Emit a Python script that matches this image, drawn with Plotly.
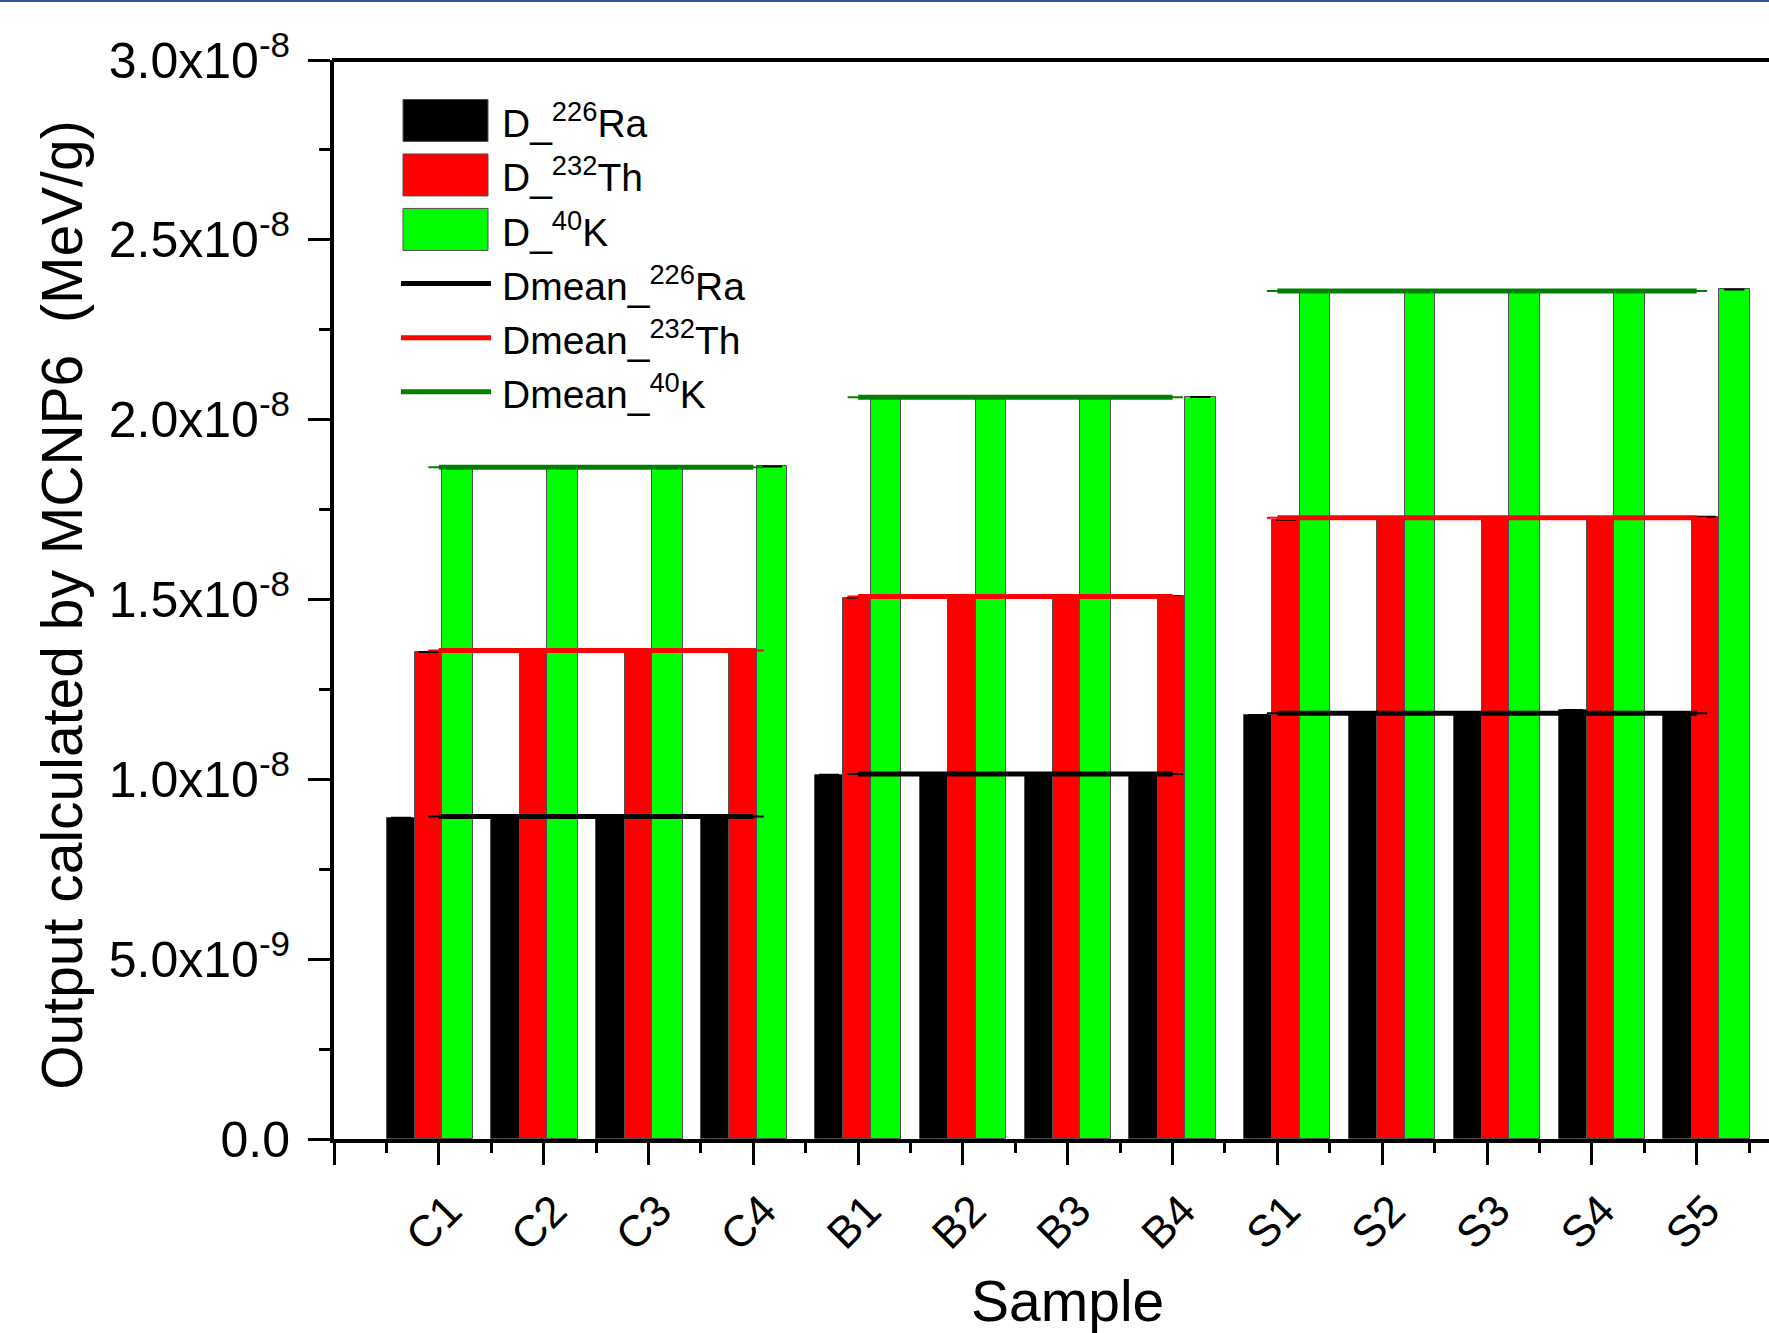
import plotly.graph_objects as go

# ---------------- data ----------------
samples = ["C1", "C2", "C3", "C4", "B1", "B2", "B3", "B4", "S1", "S2", "S3", "S4", "S5"]
sample_group = ["C", "C", "C", "C", "B", "B", "B", "B", "S", "S", "S", "S", "S"]

d_ra226 = [0.893e-8, 0.898e-8, 0.897e-8, 0.899e-8, 1.013e-8, 1.016e-8, 1.015e-8, 1.017e-8,
           1.179e-8, 1.183e-8, 1.184e-8, 1.193e-8, 1.185e-8]
d_th232 = [1.354e-8, 1.360e-8, 1.358e-8, 1.361e-8, 1.505e-8, 1.509e-8, 1.508e-8, 1.510e-8,
           1.721e-8, 1.728e-8, 1.729e-8, 1.727e-8, 1.730e-8]
d_k40 = [1.865e-8, 1.869e-8, 1.868e-8, 1.870e-8, 2.060e-8, 2.063e-8, 2.062e-8, 2.063e-8,
         2.355e-8, 2.358e-8, 2.359e-8, 2.358e-8, 2.362e-8]

groups = ["C", "B", "S"]
dmean_ra226 = [0.897e-8, 1.015e-8, 1.184e-8]
dmean_th232 = [1.358e-8, 1.508e-8, 1.727e-8]
dmean_k40 = [1.868e-8, 2.062e-8, 2.358e-8]

y_tickvals = [0, 0.5e-8, 1.0e-8, 1.5e-8, 2.0e-8, 2.5e-8, 3.0e-8]
y_ticktext = ["0.0", "5.0x10<sup>-9</sup>", "1.0x10<sup>-8</sup>", "1.5x10<sup>-8</sup>",
              "2.0x10<sup>-8</sup>", "2.5x10<sup>-8</sup>", "3.0x10<sup>-8</sup>"]

bar_names = ["D_<sup>226</sup>Ra", "D_<sup>232</sup>Th", "D_<sup>40</sup>K"]
line_names = ["Dmean_<sup>226</sup>Ra", "Dmean_<sup>232</sup>Th", "Dmean_<sup>40</sup>K"]

# ---------------- style ----------------
FONT = "Liberation Sans, Arial, sans-serif"
W, H = 1769, 1333
ML, MT, MR = 334, 60, 0
Y0PX = 1139.5
MB = H - Y0PX
PLOT_W = W - ML - MR
PLOT_H = Y0PX - MT
X_UNIT = 104.82
XMAX = PLOT_W / X_UNIT

bar_colors = ["#000000", "#FF0000", "#00FF00"]
line_colors = ["#000000", "#FF0000", "#008000"]
group_shift = {"C": -0.498, "B": -0.412, "S": -0.318}
bar_widths = [0.270, 0.262, 0.291]
bar_starts = [0.0, 0.270, 0.532]


def px_x(p):
    return (p - ML) / PLOT_W


def px_y(p):
    return (Y0PX - p) / PLOT_H


fig = go.Figure()

series = [d_ra226, d_th232, d_k40]
for s, vals in enumerate(series):
    xs = [i + 1 + group_shift[g] + bar_starts[s] + bar_widths[s] / 2
          for i, g in enumerate(sample_group)]
    fig.add_trace(go.Bar(
        x=xs, y=vals, width=bar_widths[s], name=bar_names[s],
        marker=dict(color=bar_colors[s], line=dict(color="#505050", width=1)),
        error_y=dict(type="data", array=[0] * len(vals), color="black", thickness=2, width=10),
        showlegend=False,
    ))

means = [dmean_ra226, dmean_th232, dmean_k40]
EXT = 0.1
for s, mv in enumerate(means):
    for gi, g in enumerate(groups):
        idx = [i + 1 for i, gg in enumerate(sample_group) if gg == g]
        x0, x1 = min(idx), max(idx)
        fig.add_trace(go.Scatter(
            x=[x0 - EXT, x1 + EXT], y=[mv[gi], mv[gi]], mode="lines",
            line=dict(color=line_colors[s], width=2), showlegend=False, hoverinfo="skip"))
        fig.add_trace(go.Scatter(
            x=[x0, x1], y=[mv[gi], mv[gi]], mode="lines", name=line_names[s],
            line=dict(color=line_colors[s], width=5), showlegend=False))

shapes = []
annotations = []

# custom legend
row_y = [120.5, 175.0, 229.5, 283.5, 338.0, 392.0]
for s in range(3):
    yc = row_y[s]
    shapes.append(dict(type="rect", xref="paper", yref="paper",
                       x0=px_x(403), x1=px_x(488), y0=px_y(yc + 21), y1=px_y(yc - 21),
                       fillcolor=bar_colors[s], line=dict(color="#505050", width=1)))
    annotations.append(dict(text=bar_names[s], xref="paper", yref="paper",
                            x=px_x(500), y=px_y(yc), xanchor="left", yanchor="middle",
                            showarrow=False, font=dict(family=FONT, size=39, color="black")))
for s in range(3):
    yc = row_y[s + 3]
    shapes.append(dict(type="line", xref="paper", yref="paper",
                       x0=px_x(401), x1=px_x(491), y0=px_y(yc), y1=px_y(yc),
                       line=dict(color=line_colors[s], width=5)))
    annotations.append(dict(text=line_names[s], xref="paper", yref="paper",
                            x=px_x(500), y=px_y(yc), xanchor="left", yanchor="middle",
                            showarrow=False, font=dict(family=FONT, size=39, color="black")))

# top frame line
shapes.append(dict(type="line", xref="paper", yref="paper", x0=px_x(ML - 2), x1=1.0,
                   y0=1.0, y1=1.0, line=dict(color="black", width=4), layer="above"))
# blue border at top of the picture
shapes.append(dict(type="line", xref="paper", yref="paper", x0=px_x(0), x1=1.0,
                   y0=px_y(1), y1=px_y(1), line=dict(color="#2f5597", width=2)))

# axis titles
annotations.append(dict(text="Output calculated by MCNP6  (MeV/g)", xref="paper", yref="paper",
                        x=px_x(62), y=px_y(606), xanchor="center", yanchor="middle",
                        textangle=-90, showarrow=False,
                        font=dict(family=FONT, size=57, color="black")))
annotations.append(dict(text="Sample", xref="x", yref="paper",
                        x=7, y=px_y(1302), xanchor="center", yanchor="middle",
                        showarrow=False, font=dict(family=FONT, size=57, color="black")))

fig.update_layout(
    width=W, height=H,
    margin=dict(l=ML, r=MR, t=MT, b=MB, pad=0),
    plot_bgcolor="white", paper_bgcolor="white",
    barmode="overlay", bargap=0,
    showlegend=False,
    shapes=shapes, annotations=annotations,
    font=dict(family=FONT, color="black"),
)

fig.update_xaxes(
    range=[0, XMAX], showgrid=False, zeroline=False,
    showline=True, linecolor="black", linewidth=4,
    tickmode="array", tickvals=list(range(0, len(samples) + 1)), ticktext=[""] + samples,
    ticks="outside", ticklen=22, tickwidth=3, tickcolor="black",
    tickangle=-45, tickfont=dict(family=FONT, size=44, color="black"),
    ticklabelshift=10, ticklabelstandoff=2,
    minor=dict(tickmode="array", tickvals=[i + 0.5 for i in range(len(samples) + 1)],
               ticks="outside", ticklen=10, tickwidth=3, tickcolor="black"),
)
fig.update_yaxes(
    range=[0, 3.0e-8], showgrid=False, zeroline=False,
    showline=True, linecolor="black", linewidth=4,
    tickmode="array", tickvals=y_tickvals, ticktext=y_ticktext,
    ticks="outside", ticklen=22, tickwidth=3, tickcolor="black",
    tickfont=dict(family=FONT, size=50, color="black"),
    ticklabelstandoff=8,
    minor=dict(tickmode="array", tickvals=[v + 0.25e-8 for v in y_tickvals[:-1]],
               ticks="outside", ticklen=11, tickwidth=3, tickcolor="black"),
)

fig.write_html("out.html")
